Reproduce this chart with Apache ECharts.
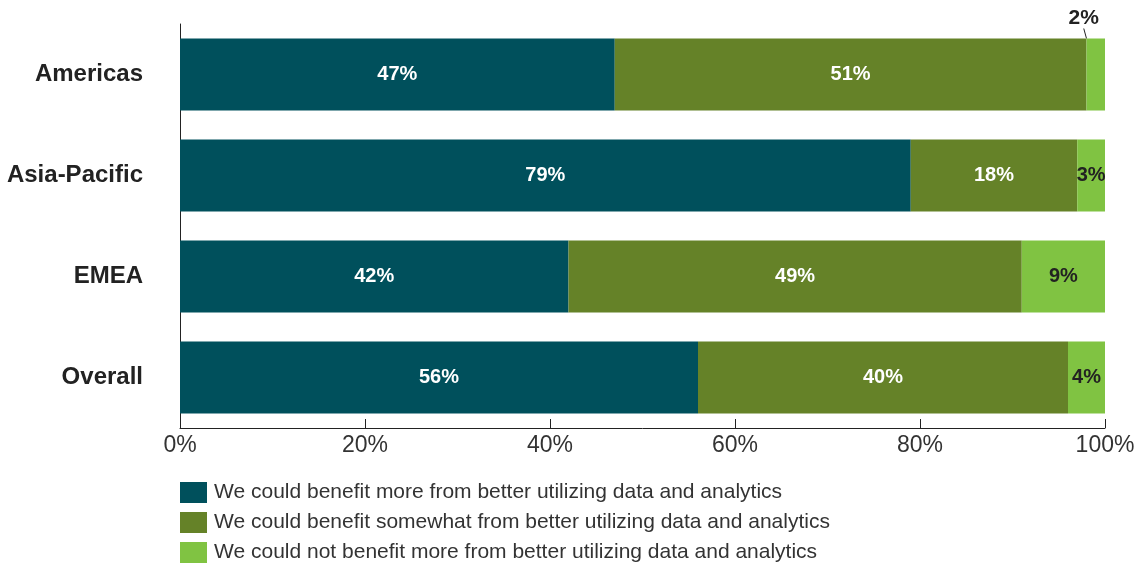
<!DOCTYPE html>
<html><head><meta charset="utf-8">
<script src="https://cdn.jsdelivr.net/npm/echarts@6/dist/echarts.min.js"></script>
<style>html,body{margin:0;padding:0;background:#fff}#c{width:1135px;height:565px}</style>
</head><body><div id="c"></div>
<script>
const categories = ['Americas', 'Asia-Pacific', 'EMEA', 'Overall'];
const seriesNames = [
  'We could benefit more from better utilizing data and analytics',
  'We could benefit somewhat from better utilizing data and analytics',
  'We could not benefit more from better utilizing data and analytics'
];
const benefitMore = [47, 79, 42, 56];
const benefitSomewhat = [51, 18, 49, 40];
const notBenefit = [2, 3, 9, 4];
const xTicks = [0, 20, 40, 60, 80, 100];

const colors = ['#00505c', '#658228', '#80c342'];
const chart = echarts.init(document.getElementById('c'));
const font = 'Liberation Sans, Arial, sans-serif';
function mk(name, data, idx) {
  const s = {
    name: name, type: 'bar', stack: 'a', data: data, barWidth: 72,
    itemStyle: {color: colors[idx]},
    label: {show: true, position: 'inside', formatter: '{c}%', fontFamily: font,
      fontWeight: 'bold', fontSize: 20, color: idx === 2 ? '#222' : '#fff'}
  };
  if (idx === 2) {
    s.data = data.map((v, i) => i === 0 ? {value: v, label: {position: 'top', distance: 0, fontSize: 21}} : v);
    s.labelLine = {show: true, lineStyle: {color: '#222', width: 1}};
    s.labelLayout = p => p.dataIndex === 0 ? {dx: -12, dy: -10} : {};
  }
  return s;
}
chart.setOption({
  animation: false,
  grid: {left: 180, right: 30, top: 24, bottom: 137, containLabel: false, outerBoundsMode: 'none'},
  xAxis: {type: 'value', min: 0, max: 100, interval: 20,
    axisLine: {show: true, lineStyle: {color: '#222'}},
    axisTick: {show: true, inside: true, length: 9, lineStyle: {color: '#222'}},
    splitLine: {show: false},
    axisLabel: {formatter: v => xTicks.includes(v) ? v + '%' : '', fontFamily: font, fontSize: 23, color: '#333', margin: 6}
  },
  yAxis: {type: 'category', data: categories, inverse: true,
    axisLine: {show: true, lineStyle: {color: '#222'}},
    axisTick: {show: false},
    axisLabel: {fontFamily: font, fontWeight: 'bold', fontSize: 24, color: '#222', margin: 37}
  },
  legend: {orient: 'vertical', left: 180, top: 482, padding: 0, itemWidth: 27, itemHeight: 21, itemGap: 9,
    icon: 'rect', data: seriesNames,
    textStyle: {fontFamily: font, fontSize: 21, color: '#333', padding: [0, 0, 0, 2]}},
  series: [mk(seriesNames[0], benefitMore, 0), mk(seriesNames[1], benefitSomewhat, 1), mk(seriesNames[2], notBenefit, 2)]
});
</script></body></html>
